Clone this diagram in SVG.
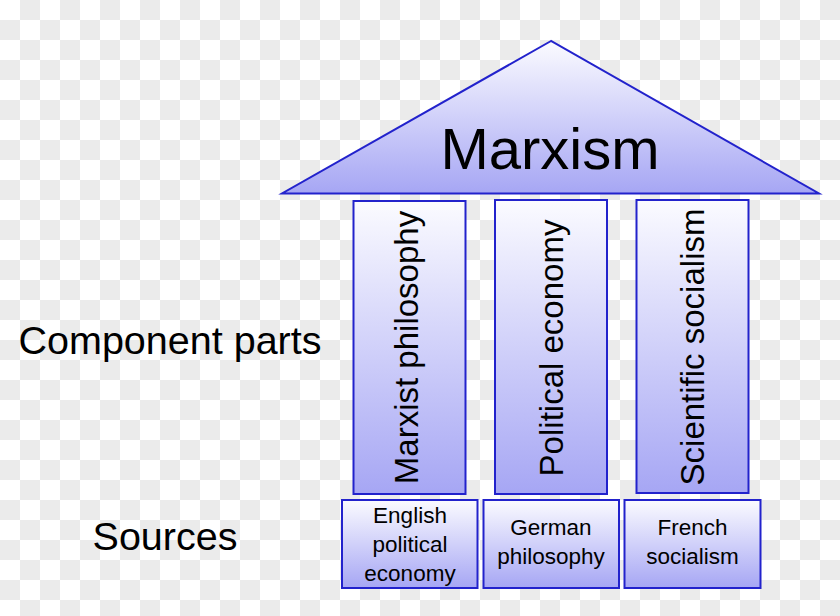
<svg xmlns="http://www.w3.org/2000/svg" width="840" height="616" viewBox="0 0 840 616">
  <defs>
    <pattern id="checker" x="0" y="0" width="40" height="40" patternUnits="userSpaceOnUse">
      <rect width="40" height="40" fill="#ffffff"/>
      <rect x="20" y="0" width="20" height="20" fill="#ebebeb"/>
      <rect x="0" y="20" width="20" height="20" fill="#ebebeb"/>
    </pattern>
    <linearGradient id="grad" x1="0" y1="0" x2="0" y2="1">
      <stop offset="0" stop-color="#fbfbff"/>
      <stop offset="1" stop-color="#a6a6f4"/>
    </linearGradient>
  </defs>
  <style>
    .shape { fill: url(#grad); stroke: #2222cc; stroke-width: 2; }
    text { font-family: "Liberation Sans", Arial, sans-serif; fill: #000000; }
    .pillar { font-size: 33px; text-anchor: middle; }
    .src { font-size: 22.5px; text-anchor: middle; }
    .lbl { font-size: 39.5px; text-anchor: middle; }
  </style>
  <rect width="840" height="616" fill="url(#checker)"/>

  <g id="roof">
    <polygon class="shape" points="551,41 282,193.5 819,193.5"/>
    <text x="550" y="169" font-size="58" text-anchor="middle">Marxism</text>
  </g>

  <g id="pillar-philosophy">
    <rect class="shape" x="353.5" y="201" width="112" height="293"/>
    <text class="pillar" transform="translate(418,347.5) rotate(-90)">Marxist philosophy</text>
  </g>
  <g id="pillar-economy">
    <rect class="shape" x="495" y="200" width="112" height="294"/>
    <text class="pillar" transform="translate(563,348) rotate(-90)">Political economy</text>
  </g>
  <g id="pillar-socialism">
    <rect class="shape" x="636.5" y="200" width="112" height="293"/>
    <text class="pillar" transform="translate(704,347) rotate(-90)">Scientific socialism</text>
  </g>

  <g id="source-english">
    <rect class="shape" x="342" y="500" width="135.5" height="88"/>
    <text class="src" x="410" y="523">English</text>
    <text class="src" x="410" y="552">political</text>
    <text class="src" x="410" y="581">economy</text>
  </g>
  <g id="source-german">
    <rect class="shape" x="483.5" y="500" width="135.5" height="88"/>
    <text class="src" x="551" y="535">German</text>
    <text class="src" x="551" y="564">philosophy</text>
  </g>
  <g id="source-french">
    <rect class="shape" x="624.5" y="500" width="136" height="88"/>
    <text class="src" x="692.5" y="535">French</text>
    <text class="src" x="692.5" y="564">socialism</text>
  </g>

  <g id="label-component">
    <text class="lbl" x="170" y="354">Component parts</text>
  </g>
  <g id="label-sources">
    <text class="lbl" x="165" y="550">Sources</text>
  </g>

  <g id="connectors"/>
</svg>
